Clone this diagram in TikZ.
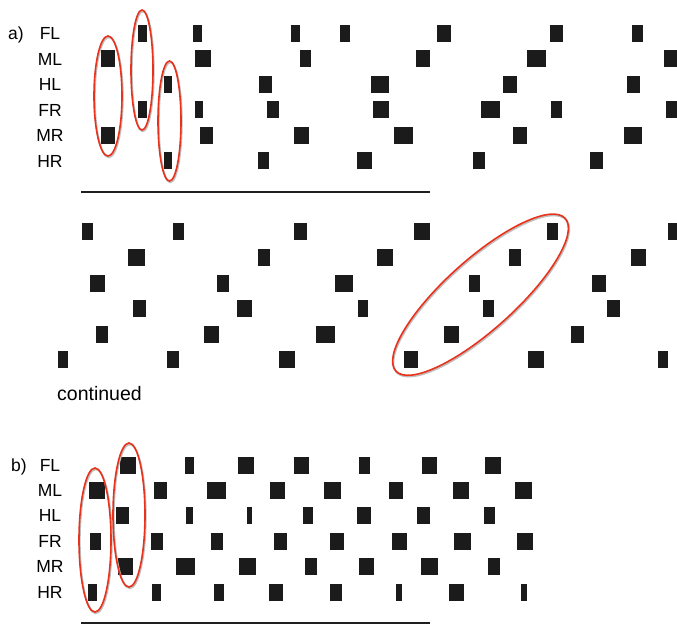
\documentclass[tikz,border=0pt]{standalone}
\usepackage{fontspec}
\setmainfont{Liberation Sans}
\definecolor{blk}{HTML}{1B1B1B}
\definecolor{ringred}{HTML}{E8321C}
\tikzset{
  blockfill/.style={fill=blk},
  ring/.style={draw=ringred, line width=1.6pt},
  ringshade/.style={draw=black!25, line width=1.8pt},
  lbl/.style={font=\fontsize{17.5}{20}\selectfont, inner sep=0pt, text height=12.5pt, text depth=0pt, anchor=center},
  rulestyle/.style={draw=black!88, line width=2pt},
}
\newcommand\blockrow[2]{\foreach \xa/\xb in {#2}{\fill[blockfill] (\xa,#1) rectangle (\xb,#1+17);}}
\newcommand\ringat[5]{%
  \draw[ringshade, rotate around={#5:(#1+0.8,#2+1.3)}] (#1+0.8,#2+1.3) ellipse [x radius=#3, y radius=#4];
  \draw[ring, rotate around={#5:(#1,#2)}] (#1,#2) ellipse [x radius=#3, y radius=#4];}
\begin{document}
\begin{tikzpicture}[x=1pt,y=-1pt]
\useasboundingbox (0,0) rectangle (677,624);
% ---------- part a ----------
\node[lbl] (la) at (16,33) {a)};
\node[lbl] (aFL) at (50,33) {FL};
\node[lbl] (aML) at (50,59) {ML};
\node[lbl] (aHL) at (50,84) {HL};
\node[lbl] (aFR) at (50,110) {FR};
\node[lbl] (aMR) at (50,135) {MR};
\node[lbl] (aHR) at (50,161) {HR};
\blockrow{25}{138/147,193/202,291/300,340/350,437/451,550/563,632/643}
\blockrow{50}{101/115,195/211,300/311,416/430,527/546,664/677}
\blockrow{75.5}{164/172,259/272,371/389,503/517,627/640}
\blockrow{101}{138/147,195/203,267/279,373/389,481/500,551/562,666/677}
\blockrow{127}{101/115,200/213,294/309,394/413,513/527,624/642}
\blockrow{152}{164/172,258/269,357/372,473/485,590/603}
\coordinate (ra1) at (81,192);
\coordinate (ra2) at (430,192);
\draw[rulestyle] (ra1) -- (ra2);
\ringat{108}{96}{14}{60}{0}
\ringat{142}{70}{11}{60}{0}
\ringat{169.5}{121}{11.5}{60}{0}
% ---------- part a continued ----------
\blockrow{223}{82/93,173/184,294/307,414/430,547/558,668/677}
\blockrow{249}{128/145,258/270,377/393,509/521,631/646}
\blockrow{274.5}{90/105,217/229,335/353,469/480,592/606}
\blockrow{300}{133/146,237/252,358/368,483/494,607/620}
\blockrow{326}{96/108,204/219,316/335,444/459,571/584}
\blockrow{351}{58/68,167/179,279/295,404/418,528/544,658/668}
\ringat{480.5}{294.7}{114}{35}{42}
\node[font=\fontsize{19.5}{22}\selectfont, inner sep=0pt, anchor=base west] (cont) at (57,400) {continued};
% ---------- part b ----------
\node[lbl] (lb) at (19,465) {b)};
\node[lbl] (bFL) at (50,465) {FL};
\node[lbl] (bML) at (50,490.5) {ML};
\node[lbl] (bHL) at (50,515.5) {HL};
\node[lbl] (bFR) at (50,541.5) {FR};
\node[lbl] (bMR) at (50,566.5) {MR};
\node[lbl] (bHR) at (50,592.5) {HR};
\blockrow{457}{120/136,185/194,238/254,294/309,359/370,422/437,485/501}
\blockrow{482}{89/105,154/167,207/226,270/285,324/341,389/403,453/469,515/532}
\blockrow{507}{116/129,186/193,247/252,303/313,357/371,417/430,484/495}
\blockrow{533}{90/101,151/163,211/223,274/287,330/344,392/407,454/471,517/533}
\blockrow{558}{118/133,176/195,239/256,305/317,359/374,421/438,488/500}
\blockrow{584}{88/97,152/161,214/224,269/283,330/342,396/402,449/464,521/527}
\ringat{95}{540}{16}{72}{0}
\ringat{129}{515}{16}{72}{0}
\coordinate (rb1) at (81,622.5);
\coordinate (rb2) at (430,622.5);
\draw[rulestyle] (rb1) -- (rb2);
\end{tikzpicture}
\end{document}
